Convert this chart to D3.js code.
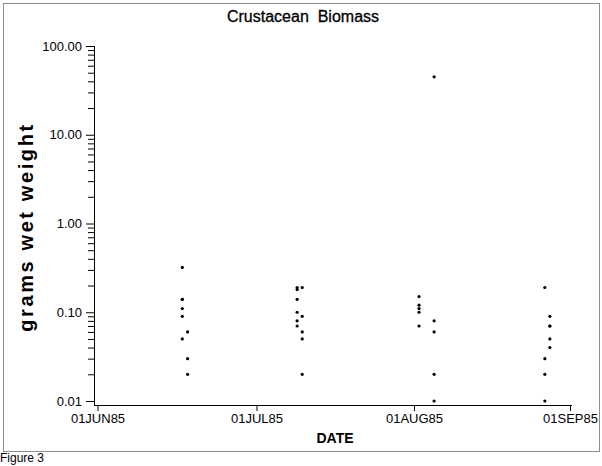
<!DOCTYPE html>
<html><head><meta charset="utf-8">
<script src="https://cdn.jsdelivr.net/npm/d3@7/dist/d3.min.js"></script>
<style>body{margin:0;background:#fff}svg{display:block}</style>
</head><body>
<svg id="c" width="602" height="466"></svg>
<script>
// ---- data ----
const sampleDates = [
  "1985-06-17","1985-06-17","1985-06-17","1985-06-17","1985-06-17","1985-06-17",
  "1985-06-18","1985-06-18","1985-06-18",
  "1985-07-09","1985-07-09","1985-07-09","1985-07-09","1985-07-09","1985-07-09",
  "1985-07-10","1985-07-10","1985-07-10","1985-07-10","1985-07-10",
  "1985-08-02","1985-08-02","1985-08-02","1985-08-02","1985-08-02",
  "1985-08-05","1985-08-05","1985-08-05","1985-08-05","1985-08-05",
  "1985-08-27","1985-08-27","1985-08-27","1985-08-27",
  "1985-08-28","1985-08-28","1985-08-28","1985-08-28","1985-08-28"
];
const biomass = [
  0.32,0.14,0.14,0.11,0.09,0.05,
  0.06,0.03,0.02,
  0.19,0.18,0.14,0.10,0.08,0.07,
  0.19,0.09,0.06,0.05,0.02,
  0.15,0.12,0.11,0.10,0.07,
  45,0.08,0.06,0.02,0.01,
  0.19,0.03,0.02,0.01,
  0.09,0.07,0.07,0.05,0.04
];
const xTickDates = ["1985-06-01","1985-07-01","1985-08-01","1985-09-01"];
const xTickLabels = ["01JUN85","01JUL85","01AUG85","01SEP85"];
const yTickValues = [0.01,0.1,1,10,100];
const yTickLabels = ["0.01","0.10","1.00","10.00","100.00"];
const titleText = "Crustacean  Biomass";
const yTitle = "grams wet weight";
const xTitle = "DATE";
const footText = "Figure 3";

// ---- drawing ----
const svg = d3.select("#c");
const FONT = "'Liberation Sans', Arial, sans-serif";
const parse = d3.utcParse("%Y-%m-%d");

const x = d3.scaleUtc()
  .domain(xTickDates.map(parse))
  .range([97.5, 256.5, 414, 570]);
const y = d3.scaleLog().domain([0.01, 100]).range([401, 46]);
const xAxisY = 405;
const yAxisX = 94;

// frame
svg.append("rect").attr("x",3.5).attr("y",3.5).attr("width",596).attr("height",448)
  .attr("fill","none").attr("stroke","#8c8c8c").attr("stroke-width",1);

// title
svg.append("text").attr("x",303).attr("y",22).attr("text-anchor","middle")
  .attr("font-family",FONT).attr("font-size",16).attr("fill","#000")
  .attr("stroke","#000").attr("stroke-width",0.3)
  .style("white-space","pre").text(titleText);

// y minor ticks
const minor = [];
for (let e = -2; e < 2; e++) for (let m = 2; m <= 9; m++) minor.push(m * Math.pow(10, e));
const gy = svg.append("g").attr("transform",`translate(${yAxisX},0)`);
gy.call(d3.axisLeft(y).tickValues(minor).tickSize(6).tickFormat(""))
  .call(g => g.select(".domain").remove())
  .call(g => g.selectAll("line").attr("stroke","#000"));
const gy2 = svg.append("g").attr("transform",`translate(${yAxisX},0)`);
gy2.call(d3.axisLeft(y).tickValues(yTickValues).tickSize(8).tickPadding(4)
    .tickFormat((d,i) => yTickLabels[i]))
  .call(g => g.select(".domain").remove())
  .call(g => g.selectAll("line").attr("stroke","#000"))
  .call(g => g.selectAll("text").attr("font-family",FONT).attr("font-size",13).attr("fill","#000"));

// axis lines
svg.append("line").attr("x1",yAxisX+0.5).attr("x2",yAxisX+0.5).attr("y1",y(100)).attr("y2",xAxisY)
  .attr("stroke","#000");
svg.append("line").attr("x1",yAxisX).attr("x2",572).attr("y1",xAxisY+0.5).attr("y2",xAxisY+0.5)
  .attr("stroke","#000");

// x axis ticks
const gx = svg.append("g").attr("transform",`translate(0,${xAxisY})`);
gx.call(d3.axisBottom(x).tickValues(xTickDates.map(parse)).tickSize(6).tickPadding(3)
    .tickFormat((d,i) => xTickLabels[i]))
  .call(g => g.select(".domain").remove())
  .call(g => g.selectAll("line").attr("stroke","#000"))
  .call(g => g.selectAll("text").attr("font-family",FONT).attr("font-size",13).attr("fill","#000"));

// axis titles
svg.append("text").attr("transform","translate(33,227) rotate(-90)").attr("text-anchor","middle")
  .attr("font-family",FONT).attr("font-size",20).attr("font-weight","bold")
  .attr("letter-spacing",2.6).attr("fill","#000").text(yTitle);
svg.append("text").attr("x",335).attr("y",443).attr("text-anchor","middle")
  .attr("font-family",FONT).attr("font-size",14).attr("font-weight","bold").attr("fill","#000")
  .text(xTitle);

// footnote
svg.append("rect").attr("x",0).attr("y",452).attr("width",60).attr("height",14).attr("fill","#fff");
svg.append("text").attr("x",0).attr("y",462).attr("font-family",FONT).attr("font-size",12)
  .attr("fill","#000").text(footText);

// points
svg.append("g").selectAll("circle").data(biomass).join("circle")
  .attr("cx",(d,i) => x(parse(sampleDates[i])))
  .attr("cy",d => y(d))
  .attr("r",1.6).attr("fill","#000");
</script>
</body></html>
